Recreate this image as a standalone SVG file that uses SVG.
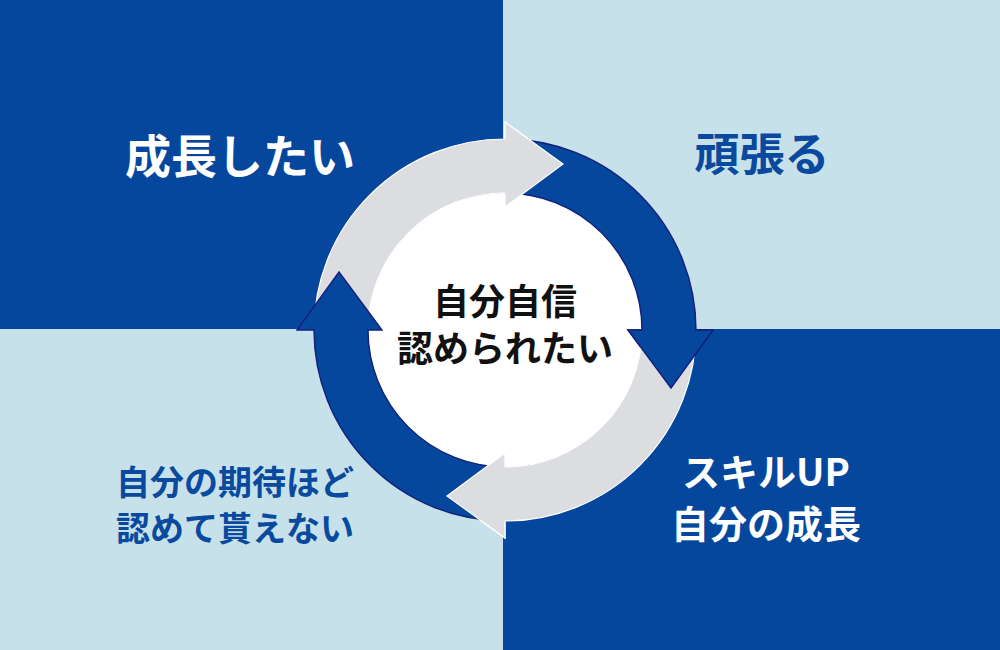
<svg xmlns="http://www.w3.org/2000/svg" width="1000" height="650" viewBox="0 0 1000 650">
<style>
  .t { font-family: "Noto Sans CJK JP", "Noto Sans", sans-serif; font-weight: bold; text-anchor: middle; }
  .white { fill: #ffffff; }
  .blue { fill: #0a4a9e; }
  .black { fill: #111111; }
  .garrow { fill: #dcdde1; stroke: #ffffff; stroke-width: 1.2; stroke-linejoin: miter; }
  .barrow { fill: #04479c; stroke: #14207a; stroke-width: 1.4; stroke-linejoin: miter; }
</style>
<defs>
  <clipPath id="clipTop"><rect x="504" y="100" width="100" height="130"/></clipPath>
  <clipPath id="clipRight"><rect x="600" y="329" width="140" height="80"/></clipPath>
  <clipPath id="clipBottom"><rect x="420" y="430" width="86" height="130"/></clipPath>
  <path id="grayTL" d="M314,330 A191,191 0 0 1 505,139 L505,122 L563,164 L505,207 L505,193 A137,137 0 0 0 368,330 Z"/>
  <path id="blueTR" d="M505,139 A191,191 0 0 1 696,330 L713,330 L671,388 L628,330 L642,330 A137,137 0 0 0 505,193 Z"/>
  <path id="grayBR" d="M696,330 A191,191 0 0 1 505,521 L505,538 L447,496 L505,453 L505,467 A137,137 0 0 0 642,330 Z"/>
  <path id="blueBL" d="M505,521 A191,191 0 0 1 314,330 L297,330 L339,272 L382,330 L368,330 A137,137 0 0 0 505,467 Z"/>
</defs>
<g id="background">
  <rect x="0" y="0" width="1000" height="650" fill="#c7e1eb"/>
  <rect x="0" y="0" width="503" height="329" fill="#04479c"/>
  <rect x="503" y="329" width="497" height="321" fill="#04479c"/>
  <circle cx="505" cy="330" r="137" fill="#ffffff"/>
</g>
<g id="connectors">
  <use href="#grayTL" class="garrow"/>
  <use href="#blueTR" class="barrow"/>
  <use href="#grayBR" class="garrow"/>
  <use href="#blueBL" class="barrow"/>
  <use href="#grayTL" class="garrow" clip-path="url(#clipTop)"/>
  <use href="#blueTR" class="barrow" clip-path="url(#clipRight)"/>
  <use href="#grayBR" class="garrow" clip-path="url(#clipBottom)"/>
</g>
<g id="node-grow">
  <text class="t white" x="240" y="173" font-size="46">成長したい</text>
</g>
<g id="node-effort">
  <text class="t blue" x="762" y="171" font-size="45">頑張る</text>
</g>
<g id="node-skill">
  <text class="t white" x="766" y="486" font-size="38">スキルUP</text>
  <text class="t white" x="766" y="538" font-size="38">自分の成長</text>
</g>
<g id="node-expect">
  <text class="t blue" x="235" y="495" font-size="34">自分の期待ほど</text>
  <text class="t blue" x="235" y="541" font-size="34">認めて貰えない</text>
</g>
<g id="node-center">
  <text class="t black" x="505" y="315" font-size="36">自分自信</text>
  <text class="t black" x="505" y="362" font-size="36">認められたい</text>
</g>
</svg>
